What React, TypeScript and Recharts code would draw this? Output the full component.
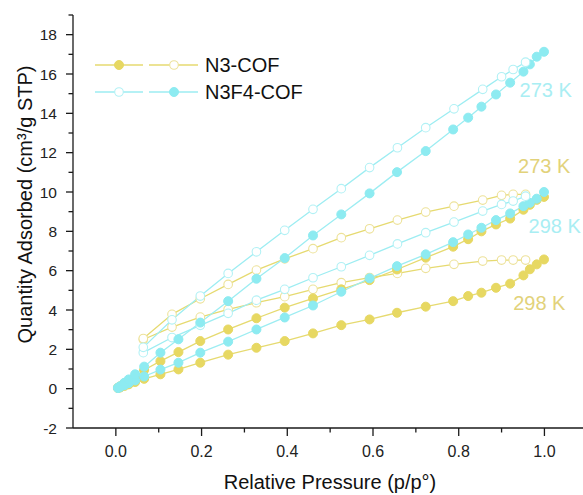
import React from 'react';
import { LineChart, Line, XAxis, YAxis, ReferenceDot } from 'recharts';

// Relative pressures (adsorption branch, desorption branch)
const adsP = [0.005, 0.01, 0.02, 0.03, 0.045, 0.066, 0.104, 0.146, 0.197, 0.262, 0.328, 0.394, 0.46, 0.526, 0.592, 0.656, 0.723, 0.787, 0.822, 0.853, 0.887, 0.92, 0.951, 0.966, 0.982, 0.999];
const desP = [0.956, 0.927, 0.9, 0.856, 0.789, 0.723, 0.657, 0.592, 0.526, 0.46, 0.394, 0.328, 0.262, 0.197, 0.131, 0.064];

// N3-COF
const n3_273_ads = [0.05, 0.12, 0.27, 0.4, 0.6, 0.95, 1.4, 1.86, 2.42, 3.01, 3.58, 4.12, 4.59, 5.05, 5.52, 6.06, 6.66, 7.22, 7.6, 8.0, 8.35, 8.65, 9.1, 9.35, 9.6, 9.75];
const n3_273_des = [9.88, 9.88, 9.83, 9.59, 9.28, 8.98, 8.57, 8.13, 7.68, 7.12, 6.6, 6.03, 5.3, 4.57, 3.78, 2.55];
const n3_298_ads = [0.03, 0.06, 0.14, 0.22, 0.34, 0.5, 0.73, 0.98, 1.32, 1.73, 2.08, 2.42, 2.81, 3.23, 3.52, 3.86, 4.17, 4.45, 4.71, 4.88, 5.13, 5.34, 5.76, 6.07, 6.32, 6.57];
const n3_298_des = [6.54, 6.54, 6.54, 6.49, 6.32, 6.12, 5.86, 5.65, 5.39, 5.05, 4.68, 4.37, 4.03, 3.64, 3.13, 2.5];

// N3F4-COF
const f4_273_ads = [0.05, 0.12, 0.3, 0.47, 0.73, 1.12, 1.83, 2.51, 3.36, 4.45, 5.59, 6.64, 7.79, 8.86, 9.93, 11.01, 12.08, 13.18, 13.78, 14.34, 14.96, 15.56, 16.12, 16.49, 16.88, 17.13];
const f4_273_des = [16.6, 16.23, 15.86, 15.22, 14.23, 13.27, 12.25, 11.24, 10.17, 9.12, 8.05, 6.96, 5.86, 4.71, 3.5, 2.1];
const f4_298_ads = [0.03, 0.08, 0.18, 0.28, 0.42, 0.62, 0.97, 1.32, 1.83, 2.39, 3.01, 3.62, 4.23, 4.93, 5.61, 6.23, 6.83, 7.45, 7.84, 8.18, 8.57, 8.91, 9.28, 9.45, 9.66, 10.0];
const f4_298_des = [9.79, 9.54, 9.37, 9.03, 8.47, 7.93, 7.36, 6.78, 6.2, 5.64, 5.05, 4.5, 3.83, 3.22, 2.6, 1.83];

// Ticks
const xMajor = [0, 0.2, 0.4, 0.6, 0.8, 1.0];
const xMajorLabels = ['0.0', '0.2', '0.4', '0.6', '0.8', '1.0'];
const xMinor = [0.1, 0.3, 0.5, 0.7, 0.9];
const yMajor = [-2, 0, 2, 4, 6, 8, 10, 12, 14, 16, 18];
const yMajorLabels = ['-2', '0', '2', '4', '6', '8', '10', '12', '14', '16', '18'];
const yMinor = [-1, 1, 3, 5, 7, 9, 11, 13, 15, 17, 19];

// Temperature annotations [x, y, text]
const cyanNotes: [number, number, string][] = [[1.003, 15.2, '273 K'], [1.024, 8.3, '298 K']];
const yelNotes: [number, number, string][] = [[0.9995, 11.32, '273 K'], [0.988, 4.37, '298 K']];

const YEL = '#E7D862';
const YEL_LINE = '#E6DA70';
const YEL_OPEN = '#EDE29A';
const CYA = '#8DEBF1';
const CYA_LINE = '#9DEDF2';
const CYA_OPEN = '#B2F1F5';
const FONT = '"Liberation Sans", Arial, sans-serif';
const AX = '#1a1a1a';

const zip = (xs: number[], ys: number[]) => xs.map((p, i) => ({ p, q: ys[i] }));

const near = (a: number, b: number) => Math.abs(a - b) < 1e-6;

const XTick = (props: any) => {
  const { x, y, payload } = props;
  const idx = xMajor.findIndex((v) => near(v, payload.value));
  const major = idx >= 0;
  return (
    <g>
      <line x1={x} y1={y} x2={x} y2={y + (major ? 8 : 4.5)} stroke={AX} strokeWidth={1.3} />
      {major && (
        <text x={x} y={y + 29} textAnchor="middle" fontSize={16} fontFamily={FONT} fill="#222">
          {xMajorLabels[idx]}
        </text>
      )}
    </g>
  );
};

const YTick = (props: any) => {
  const { x, y, payload } = props;
  const idx = yMajor.findIndex((v) => near(v, payload.value));
  const major = idx >= 0;
  return (
    <g>
      <line x1={x - (major ? 7 : 4.5)} y1={y} x2={x} y2={y} stroke={AX} strokeWidth={1.3} />
      {major && (
        <text x={x - 16} y={y + 5.5} textAnchor="end" fontSize={15.5} fontFamily={FONT} fill="#222">
          {yMajorLabels[idx]}
        </text>
      )}
    </g>
  );
};

const filledDot = (c: string) => ({ r: 4.5, fill: c, stroke: c, strokeWidth: 1 });
const openDot = (c: string) => ({ r: 4.3, fill: '#ffffff', stroke: c, strokeWidth: 1.1 });

const Legend = () => (
  <svg width={583} height={495} style={{ position: 'absolute', left: 0, top: 0, pointerEvents: 'none' }}>
    <g>
      <line x1={95} y1={65} x2={143} y2={65} stroke={YEL_LINE} strokeWidth={1.3} />
      <circle cx={119} cy={65} r={4.5} fill={YEL} stroke={YEL} />
      <line x1={149} y1={65} x2={198} y2={65} stroke={YEL_LINE} strokeWidth={1.3} />
      <circle cx={174} cy={65} r={4.3} fill="#fff" stroke={YEL_OPEN} strokeWidth={1.1} />
      <text x={205} y={72.2} fontSize={20} fontFamily={FONT} fill="#111">N3-COF</text>
    </g>
    <g>
      <line x1={95} y1={92} x2={143} y2={92} stroke={CYA_LINE} strokeWidth={1.3} />
      <circle cx={119} cy={92} r={4.3} fill="#fff" stroke={CYA_OPEN} strokeWidth={1.1} />
      <line x1={149} y1={92} x2={198} y2={92} stroke={CYA_LINE} strokeWidth={1.3} />
      <circle cx={174} cy={92} r={4.5} fill={CYA} stroke={CYA} />
      <text x={205} y={99.2} fontSize={20} fontFamily={FONT} fill="#111">N3F4-COF</text>
    </g>
  </svg>
);

export default function App() {
  return (
    <div style={{ position: 'absolute', left: 0, top: 0, width: 583, height: 495, background: '#fff' }}>
      <LineChart width={583} height={495} margin={{ top: 15, right: 0, left: 0, bottom: 0 }}>
        <XAxis
          dataKey="p"
          type="number"
          domain={[-0.1, 1.09]}
          ticks={[...xMajor, ...xMinor]}
          interval={0}
          height={67}
          tickSize={0}
          tickMargin={0}
          tickLine={false}
          axisLine={{ stroke: AX, strokeWidth: 1.3 }}
          tick={<XTick />}
          allowDataOverflow
          label={{
            content: (p: any) => {
              const vb = p.viewBox || {};
              return (
                <text x={vb.x + vb.width / 2 + 2} y={vb.y + 61} textAnchor="middle" fontSize={20} fontFamily={FONT} fill="#111">
                  Relative Pressure (p/p°)
                </text>
              );
            },
          }}
        />
        <YAxis
          type="number"
          domain={[-2, 19]}
          ticks={[...yMajor, ...yMinor]}
          interval={0}
          width={73}
          tickSize={0}
          tickMargin={0}
          tickLine={false}
          axisLine={{ stroke: AX, strokeWidth: 1.3 }}
          tick={<YTick />}
          allowDataOverflow
          label={{
            content: (p: any) => {
              const vb = p.viewBox || {};
              const cx = vb.x + 25;
              const cy = vb.y + vb.height / 2 - 17;
              return (
                <text x={cx} y={cy} transform={`rotate(-90 ${cx} ${cy})`} textAnchor="middle" dominantBaseline="central" fontSize={20} fontFamily={FONT} fill="#111">
                  Quantity Adsorbed (cm³/g STP)
                </text>
              );
            },
          }}
        />
        <Line data={zip(adsP, n3_298_ads)} dataKey="q" type="linear" stroke={YEL_LINE} strokeWidth={1.3} dot={filledDot(YEL)} activeDot={false} isAnimationActive={false} />
        <Line data={zip(desP, n3_298_des)} dataKey="q" type="linear" stroke={YEL_LINE} strokeWidth={1.3} dot={openDot(YEL_OPEN)} activeDot={false} isAnimationActive={false} />
        <Line data={zip(adsP, n3_273_ads)} dataKey="q" type="linear" stroke={YEL_LINE} strokeWidth={1.3} dot={filledDot(YEL)} activeDot={false} isAnimationActive={false} />
        <Line data={zip(desP, n3_273_des)} dataKey="q" type="linear" stroke={YEL_LINE} strokeWidth={1.3} dot={openDot(YEL_OPEN)} activeDot={false} isAnimationActive={false} />
        <Line data={zip(adsP, f4_298_ads)} dataKey="q" type="linear" stroke={CYA_LINE} strokeWidth={1.3} dot={filledDot(CYA)} activeDot={false} isAnimationActive={false} />
        <Line data={zip(desP, f4_298_des)} dataKey="q" type="linear" stroke={CYA_LINE} strokeWidth={1.3} dot={openDot(CYA_OPEN)} activeDot={false} isAnimationActive={false} />
        <Line data={zip(adsP, f4_273_ads)} dataKey="q" type="linear" stroke={CYA_LINE} strokeWidth={1.3} dot={filledDot(CYA)} activeDot={false} isAnimationActive={false} />
        <Line data={zip(desP, f4_273_des)} dataKey="q" type="linear" stroke={CYA_LINE} strokeWidth={1.3} dot={openDot(CYA_OPEN)} activeDot={false} isAnimationActive={false} />
        {cyanNotes.map(([x, y, t], i) => (
          <ReferenceDot key={'c' + i} x={x} y={y} r={1} fill="none" stroke="none" ifOverflow="visible"
            label={{ value: t, position: 'center', fill: '#A9EEF3', fontSize: 20, fontFamily: FONT }} />
        ))}
        {yelNotes.map(([x, y, t], i) => (
          <ReferenceDot key={'y' + i} x={x} y={y} r={1} fill="none" stroke="none" ifOverflow="visible"
            label={{ value: t, position: 'center', fill: '#E2D27A', fontSize: 20, fontFamily: FONT }} />
        ))}
      </LineChart>
      <Legend />
    </div>
  );
}
